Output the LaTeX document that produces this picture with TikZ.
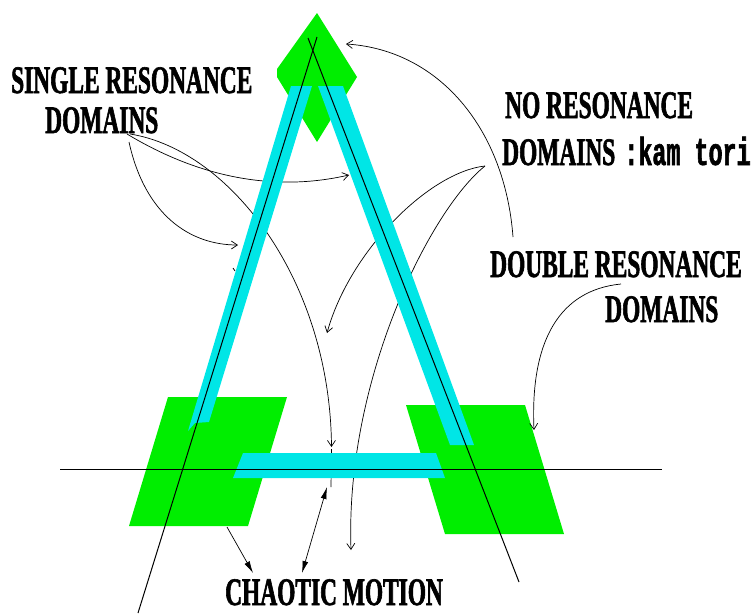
\documentclass[tikz,border=0pt]{standalone}
\usepackage{fontspec}
\usetikzlibrary{arrows.meta}
\newfontfamily\labfont{Liberation Serif}[FakeStretch=0.6, BoldFeatures={FakeBold=1.5}]
\newfontfamily\labmono{Liberation Mono}[FakeStretch=0.6, BoldFeatures={FakeBold=1.5}]
\definecolor{grn}{RGB}{0,238,0}
\definecolor{cyn}{RGB}{0,230,230}
\begin{document}
\begin{tikzpicture}[x=1pt,y=-1pt,
  lab/.style={font={\labfont\bfseries\fontsize{39}{40}\selectfont}, anchor=base west, inner sep=0pt},
  greenpatch/.style={fill=grn, draw=none},
  cyanbar/.style={fill=cyn, draw=none},
  openarrow/.style={-{Straight Barb[length=6pt,width=8pt]}, line width=0.7pt},
  thinline/.style={line width=0.7pt},
  filledarrow/.style={-{Latex[length=12pt,width=6pt]}, line width=0.7pt},
  twoway/.style={{Latex[length=12pt,width=6pt]}-{Latex[length=12pt,width=6pt]}, line width=0.7pt},
  axisline/.style={line width=1pt}]
\useasboundingbox (0,0) rectangle (754,613);

% green domains
\fill[greenpatch] (168,397) -- (287,397) -- (248,526) -- (129,526) -- cycle;
\fill[greenpatch] (406,405) -- (525,405) -- (564,534) -- (445,534) -- cycle;
\fill[greenpatch] (317,13) -- (357,77) -- (317,142) -- (277,77) -- (277,69) -- cycle;

% anchor points for connectors
\coordinate (s1) at (127,134);
\coordinate (s2) at (130,134);
\coordinate (s3) at (129,142);
\coordinate (rightbarhit) at (349,175);
\coordinate (centerdown) at (331.5,447);
\coordinate (leftbarhit) at (238,245);
\coordinate (n1) at (485,166);
\coordinate (ninside) at (327,333);
\coordinate (nbottom) at (351,550);
\coordinate (ntop) at (513,237);
\coordinate (diamondhit) at (346,44);
\coordinate (d1) at (621,284);
\coordinate (rightgreenhit) at (534,430);
\coordinate (leftgreenedge) at (227,527);
\coordinate (chaosA) at (253,573);
\coordinate (chaosB) at (302,573);
\coordinate (barbelow) at (327,487);
\coordinate (stubtop) at (331.5,449);
\coordinate (stubbot) at (331,487);
\coordinate (tick1) at (233,268);
\coordinate (tick2) at (235,271);

% connectors
\draw[openarrow] (s1) .. controls (200,178) and (275,192) .. (rightbarhit);
\draw[openarrow] (s2) .. controls (230,150) and (330,280) .. (centerdown);
\draw[thinline] (stubtop) -- (stubbot);
\draw[openarrow] (s3) .. controls (145,215) and (190,245) .. (leftbarhit);
\draw[thinline] (tick1) -- (tick2);
\draw[openarrow] (n1) .. controls (430,172) and (350,250) .. (ninside);
\draw[openarrow] (n1) .. controls (430,210) and (345,380) .. (nbottom);
\draw[openarrow] (ntop) .. controls (505,130) and (440,50) .. (diamondhit);
\draw[openarrow] (d1) .. controls (560,290) and (530,340) .. (rightgreenhit);
\draw[filledarrow] (leftgreenedge) -- (chaosA);
\draw[twoway] (chaosB) -- (barbelow);

% cyan bars
\fill[cyanbar] (291,86) -- (312,86) -- (209,422) -- (195,423) -- (188,431) -- cycle;
\fill[cyanbar] (318,86) -- (343,86) -- (474,445) -- (450,445) -- cycle;
\fill[cyanbar] (243,453) -- (436,453) -- (445,478) -- (233,478) -- cycle;

% black lines
\coordinate (la) at (317,37);
\coordinate (lb) at (138,613);
\coordinate (ra) at (308,38);
\coordinate (rb) at (519,582);
\coordinate (ha) at (60,469);
\coordinate (hb) at (662,469);
\draw[axisline] (la) -- (lb);
\draw[axisline] (ra) -- (rb);
\draw[axisline] (ha) -- (hb);

% labels
\node[lab] (single1) at (11,93) {SINGLE RESONANCE};
\node[lab] (single2) at (45,133) {DOMAINS};
\node[lab] (no1) at (505,118) {NO RESONANCE};
\node[lab] (no2) at (502,165) {DOMAINS\hspace{9pt}{\labmono\bfseries :kam tori}};
\node[lab] (dbl1) at (490,277) {DOUBLE RESONANCE};
\node[lab] (dbl2) at (605,322) {DOMAINS};
\node[lab] (chaos) at (225,605) {CHAOTIC MOTION};
\end{tikzpicture}
\end{document}
